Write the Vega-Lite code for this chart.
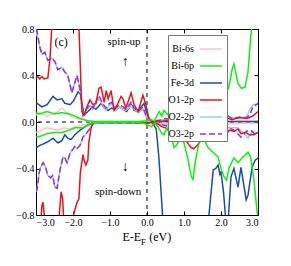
{
"$schema":"https://vega.github.io/schema/vega-lite/v6.json",
"width":222,"height":186,
"autosize":"none",
"padding":{"left":36,"top":29,"right":33,"bottom":51},
"background":"white",
"config":{"view":{"stroke":"black","strokeWidth":1},
"font":"Liberation Serif",
"axis":{"domainColor":"black","tickColor":"black","labelColor":"black","labelFont":"Liberation Serif","labelFontSize":10,"grid":false,"tickSize":-4,"labelPadding":6}},
"datasets":{
"dos":[
{"o":"Bi-6s","s":"u","x":-3,"y":0.06},{"o":"Bi-6s","s":"u","x":-2.85,"y":0.07},{"o":"Bi-6s","s":"u","x":-2.7,"y":0.05},{"o":"Bi-6s","s":"u","x":-2.55,"y":0.07},{"o":"Bi-6s","s":"u","x":-2.4,"y":0.09},{"o":"Bi-6s","s":"u","x":-2.3,"y":0.12},{"o":"Bi-6s","s":"u","x":-2.2,"y":0.09},{"o":"Bi-6s","s":"u","x":-2.1,"y":0.06},{"o":"Bi-6s","s":"u","x":-2,"y":0.04},{"o":"Bi-6s","s":"u","x":-1.8,"y":0.02},{"o":"Bi-6s","s":"u","x":-1.5,"y":0.005},{"o":"Bi-6s","s":"u","x":0,"y":0.005},{"o":"Bi-6s","s":"u","x":1,"y":0.008},{"o":"Bi-6s","s":"u","x":2,"y":0.005},{"o":"Bi-6s","s":"u","x":3,"y":0.006},
{"o":"Bi-6s","s":"d","x":-3,"y":-0.09},{"o":"Bi-6s","s":"d","x":-2.85,"y":-0.07},{"o":"Bi-6s","s":"d","x":-2.7,"y":-0.05},{"o":"Bi-6s","s":"d","x":-2.55,"y":-0.06},{"o":"Bi-6s","s":"d","x":-2.4,"y":-0.07},{"o":"Bi-6s","s":"d","x":-2.25,"y":-0.05},{"o":"Bi-6s","s":"d","x":-2.1,"y":-0.06},{"o":"Bi-6s","s":"d","x":-1.95,"y":-0.04},{"o":"Bi-6s","s":"d","x":-1.8,"y":-0.03},{"o":"Bi-6s","s":"d","x":-1.5,"y":-0.01},{"o":"Bi-6s","s":"d","x":0,"y":-0.01},{"o":"Bi-6s","s":"d","x":1,"y":-0.012},{"o":"Bi-6s","s":"d","x":1.5,"y":-0.01},{"o":"Bi-6s","s":"d","x":2,"y":-0.02},{"o":"Bi-6s","s":"d","x":2.5,"y":-0.012},{"o":"Bi-6s","s":"d","x":3,"y":-0.01},
{"o":"Fe-3d","s":"u","x":-3,"y":0.15},{"o":"Fe-3d","s":"u","x":-2.97,"y":0.16},{"o":"Fe-3d","s":"u","x":-2.84,"y":0.13},{"o":"Fe-3d","s":"u","x":-2.7,"y":0.15},{"o":"Fe-3d","s":"u","x":-2.54,"y":0.22},{"o":"Fe-3d","s":"u","x":-2.43,"y":0.19},{"o":"Fe-3d","s":"u","x":-2.3,"y":0.2},{"o":"Fe-3d","s":"u","x":-2.22,"y":0.16},{"o":"Fe-3d","s":"u","x":-2.08,"y":0.15},{"o":"Fe-3d","s":"u","x":-1.99,"y":0.18},{"o":"Fe-3d","s":"u","x":-1.86,"y":0.26},{"o":"Fe-3d","s":"u","x":-1.8,"y":0.24},{"o":"Fe-3d","s":"u","x":-1.7,"y":0.06},{"o":"Fe-3d","s":"u","x":-1.6,"y":0.09},{"o":"Fe-3d","s":"u","x":-1.46,"y":0.13},{"o":"Fe-3d","s":"u","x":-1.38,"y":0.11},{"o":"Fe-3d","s":"u","x":-1.24,"y":0.16},{"o":"Fe-3d","s":"u","x":-1.15,"y":0.12},{"o":"Fe-3d","s":"u","x":-1.05,"y":0.1},{"o":"Fe-3d","s":"u","x":-0.95,"y":0.12},{"o":"Fe-3d","s":"u","x":-0.85,"y":0.1},{"o":"Fe-3d","s":"u","x":-0.75,"y":0.13},{"o":"Fe-3d","s":"u","x":-0.65,"y":0.11},{"o":"Fe-3d","s":"u","x":-0.55,"y":0.09},{"o":"Fe-3d","s":"u","x":-0.43,"y":0.15},{"o":"Fe-3d","s":"u","x":-0.35,"y":0.1},{"o":"Fe-3d","s":"u","x":-0.25,"y":0.09},{"o":"Fe-3d","s":"u","x":-0.08,"y":0.16},{"o":"Fe-3d","s":"u","x":0.03,"y":0.04},{"o":"Fe-3d","s":"u","x":0.16,"y":0},{"o":"Fe-3d","s":"u","x":0.3,"y":0.005},{"o":"Fe-3d","s":"u","x":3,"y":0.005},
{"o":"Fe-3d","s":"d","x":-3,"y":-0.22},{"o":"Fe-3d","s":"d","x":-2.89,"y":-0.2},{"o":"Fe-3d","s":"d","x":-2.81,"y":-0.19},{"o":"Fe-3d","s":"d","x":-2.68,"y":-0.17},{"o":"Fe-3d","s":"d","x":-2.54,"y":-0.14},{"o":"Fe-3d","s":"d","x":-2.41,"y":-0.18},{"o":"Fe-3d","s":"d","x":-2.3,"y":-0.16},{"o":"Fe-3d","s":"d","x":-2.22,"y":-0.11},{"o":"Fe-3d","s":"d","x":-2.14,"y":-0.14},{"o":"Fe-3d","s":"d","x":-2.05,"y":-0.15},{"o":"Fe-3d","s":"d","x":-1.95,"y":-0.11},{"o":"Fe-3d","s":"d","x":-1.81,"y":-0.07},{"o":"Fe-3d","s":"d","x":-1.62,"y":-0.03},{"o":"Fe-3d","s":"d","x":-1.46,"y":-0.005},{"o":"Fe-3d","s":"d","x":0.15,"y":-0.01},{"o":"Fe-3d","s":"d","x":0.25,"y":-0.06},{"o":"Fe-3d","s":"d","x":0.32,"y":-0.3},{"o":"Fe-3d","s":"d","x":0.38,"y":-0.6},{"o":"Fe-3d","s":"d","x":0.43,"y":-0.85},{"o":"Fe-3d","s":"d","x":0.5,"y":-1.0},{"o":"Fe-3d","s":"d","x":1.6,"y":-1.0},{"o":"Fe-3d","s":"d","x":1.68,"y":-0.78},{"o":"Fe-3d","s":"d","x":1.79,"y":-0.41},{"o":"Fe-3d","s":"d","x":1.86,"y":-0.4},{"o":"Fe-3d","s":"d","x":1.92,"y":-0.37},{"o":"Fe-3d","s":"d","x":1.97,"y":-0.45},{"o":"Fe-3d","s":"d","x":2.0,"y":-0.43},{"o":"Fe-3d","s":"d","x":2.07,"y":-0.61},{"o":"Fe-3d","s":"d","x":2.13,"y":-0.85},{"o":"Fe-3d","s":"d","x":2.2,"y":-0.82},{"o":"Fe-3d","s":"d","x":2.27,"y":-0.47},{"o":"Fe-3d","s":"d","x":2.35,"y":-0.4},{"o":"Fe-3d","s":"d","x":2.46,"y":-0.56},{"o":"Fe-3d","s":"d","x":2.54,"y":-0.39},{"o":"Fe-3d","s":"d","x":2.62,"y":-0.55},{"o":"Fe-3d","s":"d","x":2.68,"y":-0.67},{"o":"Fe-3d","s":"d","x":2.73,"y":-0.63},{"o":"Fe-3d","s":"d","x":2.84,"y":-0.39},{"o":"Fe-3d","s":"d","x":2.92,"y":-0.33},{"o":"Fe-3d","s":"d","x":3,"y":-0.31},
{"o":"O2-2p","s":"u","x":-3,"y":0.78},{"o":"O2-2p","s":"u","x":-2.95,"y":0.72},{"o":"O2-2p","s":"u","x":-2.9,"y":0.64},{"o":"O2-2p","s":"u","x":-2.84,"y":0.58},{"o":"O2-2p","s":"u","x":-2.76,"y":0.6},{"o":"O2-2p","s":"u","x":-2.68,"y":0.53},{"o":"O2-2p","s":"u","x":-2.57,"y":0.55},{"o":"O2-2p","s":"u","x":-2.49,"y":0.52},{"o":"O2-2p","s":"u","x":-2.41,"y":0.45},{"o":"O2-2p","s":"u","x":-2.3,"y":0.47},{"o":"O2-2p","s":"u","x":-2.22,"y":0.43},{"o":"O2-2p","s":"u","x":-2.14,"y":0.4},{"o":"O2-2p","s":"u","x":-2.03,"y":0.25},{"o":"O2-2p","s":"u","x":-1.95,"y":0.34},{"o":"O2-2p","s":"u","x":-1.89,"y":0.4},{"o":"O2-2p","s":"u","x":-1.81,"y":0.28},{"o":"O2-2p","s":"u","x":-1.73,"y":0.05},{"o":"O2-2p","s":"u","x":-1.62,"y":0.11},{"o":"O2-2p","s":"u","x":-1.54,"y":0.14},{"o":"O2-2p","s":"u","x":-1.46,"y":0.11},{"o":"O2-2p","s":"u","x":-1.3,"y":0.2},{"o":"O2-2p","s":"u","x":-1.2,"y":0.15},{"o":"O2-2p","s":"u","x":-1.11,"y":0.1},{"o":"O2-2p","s":"u","x":-1.03,"y":0.14},{"o":"O2-2p","s":"u","x":-0.95,"y":0.15},{"o":"O2-2p","s":"u","x":-0.85,"y":0.1},{"o":"O2-2p","s":"u","x":-0.75,"y":0.13},{"o":"O2-2p","s":"u","x":-0.65,"y":0.11},{"o":"O2-2p","s":"u","x":-0.57,"y":0.1},{"o":"O2-2p","s":"u","x":-0.43,"y":0.14},{"o":"O2-2p","s":"u","x":-0.35,"y":0.11},{"o":"O2-2p","s":"u","x":-0.24,"y":0.08},{"o":"O2-2p","s":"u","x":-0.11,"y":0.11},{"o":"O2-2p","s":"u","x":-0.03,"y":0.05},{"o":"O2-2p","s":"u","x":0.1,"y":0.01},{"o":"O2-2p","s":"u","x":0.4,"y":0.02},{"o":"O2-2p","s":"u","x":0.7,"y":0.03},{"o":"O2-2p","s":"u","x":1,"y":0.02},{"o":"O2-2p","s":"u","x":1.3,"y":0.03},{"o":"O2-2p","s":"u","x":1.6,"y":0.04},{"o":"O2-2p","s":"u","x":1.9,"y":0.03},{"o":"O2-2p","s":"u","x":2.2,"y":0.04},{"o":"O2-2p","s":"u","x":2.5,"y":0.03},{"o":"O2-2p","s":"u","x":2.7,"y":0.05},{"o":"O2-2p","s":"u","x":2.8,"y":0.12},{"o":"O2-2p","s":"u","x":2.88,"y":0.15},{"o":"O2-2p","s":"u","x":3,"y":0.15},
{"o":"O2-2p","s":"d","x":-3,"y":-0.6},{"o":"O2-2p","s":"d","x":-2.97,"y":-0.58},{"o":"O2-2p","s":"d","x":-2.92,"y":-0.45},{"o":"O2-2p","s":"d","x":-2.89,"y":-0.4},{"o":"O2-2p","s":"d","x":-2.81,"y":-0.35},{"o":"O2-2p","s":"d","x":-2.75,"y":-0.38},{"o":"O2-2p","s":"d","x":-2.68,"y":-0.46},{"o":"O2-2p","s":"d","x":-2.6,"y":-0.48},{"o":"O2-2p","s":"d","x":-2.55,"y":-0.46},{"o":"O2-2p","s":"d","x":-2.49,"y":-0.56},{"o":"O2-2p","s":"d","x":-2.43,"y":-0.57},{"o":"O2-2p","s":"d","x":-2.35,"y":-0.41},{"o":"O2-2p","s":"d","x":-2.27,"y":-0.3},{"o":"O2-2p","s":"d","x":-2.22,"y":-0.31},{"o":"O2-2p","s":"d","x":-2.16,"y":-0.35},{"o":"O2-2p","s":"d","x":-2.08,"y":-0.27},{"o":"O2-2p","s":"d","x":-1.95,"y":-0.21},{"o":"O2-2p","s":"d","x":-1.89,"y":-0.23},{"o":"O2-2p","s":"d","x":-1.81,"y":-0.2},{"o":"O2-2p","s":"d","x":-1.73,"y":-0.13},{"o":"O2-2p","s":"d","x":-1.62,"y":-0.09},{"o":"O2-2p","s":"d","x":-1.51,"y":-0.04},{"o":"O2-2p","s":"d","x":-1.43,"y":-0.005},{"o":"O2-2p","s":"d","x":0.1,"y":-0.01},{"o":"O2-2p","s":"d","x":0.3,"y":-0.02},{"o":"O2-2p","s":"d","x":0.5,"y":-0.02},{"o":"O2-2p","s":"d","x":0.65,"y":-0.03},{"o":"O2-2p","s":"d","x":0.8,"y":-0.07},{"o":"O2-2p","s":"d","x":1.0,"y":-0.09},{"o":"O2-2p","s":"d","x":1.15,"y":-0.1},{"o":"O2-2p","s":"d","x":1.27,"y":-0.14},{"o":"O2-2p","s":"d","x":1.5,"y":-0.1},{"o":"O2-2p","s":"d","x":1.68,"y":-0.03},{"o":"O2-2p","s":"d","x":1.85,"y":-0.05},{"o":"O2-2p","s":"d","x":2.0,"y":-0.07},{"o":"O2-2p","s":"d","x":2.2,"y":-0.05},{"o":"O2-2p","s":"d","x":2.46,"y":-0.05},{"o":"O2-2p","s":"d","x":2.6,"y":-0.09},{"o":"O2-2p","s":"d","x":2.73,"y":-0.14},{"o":"O2-2p","s":"d","x":2.85,"y":-0.08},{"o":"O2-2p","s":"d","x":3,"y":-0.1},
{"o":"O3-2p","s":"u","x":-3,"y":0.8},{"o":"O3-2p","s":"u","x":-2.97,"y":0.78},{"o":"O3-2p","s":"u","x":-2.9,"y":0.65},{"o":"O3-2p","s":"u","x":-2.84,"y":0.58},{"o":"O3-2p","s":"u","x":-2.76,"y":0.6},{"o":"O3-2p","s":"u","x":-2.68,"y":0.53},{"o":"O3-2p","s":"u","x":-2.57,"y":0.55},{"o":"O3-2p","s":"u","x":-2.49,"y":0.52},{"o":"O3-2p","s":"u","x":-2.41,"y":0.45},{"o":"O3-2p","s":"u","x":-2.3,"y":0.47},{"o":"O3-2p","s":"u","x":-2.22,"y":0.43},{"o":"O3-2p","s":"u","x":-2.14,"y":0.4},{"o":"O3-2p","s":"u","x":-2.03,"y":0.25},{"o":"O3-2p","s":"u","x":-1.95,"y":0.34},{"o":"O3-2p","s":"u","x":-1.89,"y":0.4},{"o":"O3-2p","s":"u","x":-1.81,"y":0.28},{"o":"O3-2p","s":"u","x":-1.73,"y":0.06},{"o":"O3-2p","s":"u","x":-1.62,"y":0.12},{"o":"O3-2p","s":"u","x":-1.54,"y":0.15},{"o":"O3-2p","s":"u","x":-1.46,"y":0.12},{"o":"O3-2p","s":"u","x":-1.3,"y":0.23},{"o":"O3-2p","s":"u","x":-1.2,"y":0.16},{"o":"O3-2p","s":"u","x":-1.11,"y":0.12},{"o":"O3-2p","s":"u","x":-1.05,"y":0.15},{"o":"O3-2p","s":"u","x":-0.97,"y":0.17},{"o":"O3-2p","s":"u","x":-0.85,"y":0.12},{"o":"O3-2p","s":"u","x":-0.75,"y":0.15},{"o":"O3-2p","s":"u","x":-0.65,"y":0.13},{"o":"O3-2p","s":"u","x":-0.57,"y":0.11},{"o":"O3-2p","s":"u","x":-0.43,"y":0.17},{"o":"O3-2p","s":"u","x":-0.35,"y":0.12},{"o":"O3-2p","s":"u","x":-0.24,"y":0.09},{"o":"O3-2p","s":"u","x":-0.11,"y":0.13},{"o":"O3-2p","s":"u","x":-0.03,"y":0.06},{"o":"O3-2p","s":"u","x":0.1,"y":0.01},{"o":"O3-2p","s":"u","x":0.3,"y":0.01},{"o":"O3-2p","s":"u","x":0.5,"y":0.03},{"o":"O3-2p","s":"u","x":0.65,"y":0.02},{"o":"O3-2p","s":"u","x":0.8,"y":0.05},{"o":"O3-2p","s":"u","x":0.95,"y":0.02},{"o":"O3-2p","s":"u","x":1.2,"y":0.04},{"o":"O3-2p","s":"u","x":1.4,"y":0.02},{"o":"O3-2p","s":"u","x":1.55,"y":0.06},{"o":"O3-2p","s":"u","x":1.7,"y":0.03},{"o":"O3-2p","s":"u","x":1.85,"y":0.07},{"o":"O3-2p","s":"u","x":2,"y":0.04},{"o":"O3-2p","s":"u","x":2.15,"y":0.06},{"o":"O3-2p","s":"u","x":2.3,"y":0.03},{"o":"O3-2p","s":"u","x":2.5,"y":0.04},{"o":"O3-2p","s":"u","x":2.65,"y":0.03},{"o":"O3-2p","s":"u","x":2.78,"y":0.06},{"o":"O3-2p","s":"u","x":2.86,"y":0.13},{"o":"O3-2p","s":"u","x":3,"y":0.16},
{"o":"O3-2p","s":"d","x":-3,"y":-0.6},{"o":"O3-2p","s":"d","x":-2.97,"y":-0.58},{"o":"O3-2p","s":"d","x":-2.92,"y":-0.45},{"o":"O3-2p","s":"d","x":-2.89,"y":-0.4},{"o":"O3-2p","s":"d","x":-2.81,"y":-0.35},{"o":"O3-2p","s":"d","x":-2.75,"y":-0.38},{"o":"O3-2p","s":"d","x":-2.68,"y":-0.46},{"o":"O3-2p","s":"d","x":-2.6,"y":-0.48},{"o":"O3-2p","s":"d","x":-2.55,"y":-0.46},{"o":"O3-2p","s":"d","x":-2.49,"y":-0.56},{"o":"O3-2p","s":"d","x":-2.43,"y":-0.57},{"o":"O3-2p","s":"d","x":-2.35,"y":-0.41},{"o":"O3-2p","s":"d","x":-2.27,"y":-0.3},{"o":"O3-2p","s":"d","x":-2.22,"y":-0.31},{"o":"O3-2p","s":"d","x":-2.16,"y":-0.35},{"o":"O3-2p","s":"d","x":-2.08,"y":-0.27},{"o":"O3-2p","s":"d","x":-1.95,"y":-0.21},{"o":"O3-2p","s":"d","x":-1.89,"y":-0.23},{"o":"O3-2p","s":"d","x":-1.81,"y":-0.2},{"o":"O3-2p","s":"d","x":-1.73,"y":-0.13},{"o":"O3-2p","s":"d","x":-1.62,"y":-0.09},{"o":"O3-2p","s":"d","x":-1.51,"y":-0.04},{"o":"O3-2p","s":"d","x":-1.43,"y":-0.005},{"o":"O3-2p","s":"d","x":0.1,"y":-0.01},{"o":"O3-2p","s":"d","x":0.3,"y":-0.02},{"o":"O3-2p","s":"d","x":0.5,"y":-0.03},{"o":"O3-2p","s":"d","x":0.65,"y":-0.05},{"o":"O3-2p","s":"d","x":0.78,"y":-0.09},{"o":"O3-2p","s":"d","x":0.92,"y":-0.06},{"o":"O3-2p","s":"d","x":1.05,"y":-0.04},{"o":"O3-2p","s":"d","x":1.19,"y":-0.06},{"o":"O3-2p","s":"d","x":1.32,"y":-0.14},{"o":"O3-2p","s":"d","x":1.46,"y":-0.11},{"o":"O3-2p","s":"d","x":1.59,"y":-0.05},{"o":"O3-2p","s":"d","x":1.73,"y":-0.04},{"o":"O3-2p","s":"d","x":1.81,"y":-0.06},{"o":"O3-2p","s":"d","x":1.95,"y":-0.11},{"o":"O3-2p","s":"d","x":2.08,"y":-0.06},{"o":"O3-2p","s":"d","x":2.22,"y":-0.05},{"o":"O3-2p","s":"d","x":2.35,"y":-0.07},{"o":"O3-2p","s":"d","x":2.54,"y":-0.13},{"o":"O3-2p","s":"d","x":2.68,"y":-0.08},{"o":"O3-2p","s":"d","x":2.81,"y":-0.07},{"o":"O3-2p","s":"d","x":2.92,"y":-0.11},{"o":"O3-2p","s":"d","x":3,"y":-0.12},
{"o":"O1-2p","s":"u","x":-3,"y":0.38},{"o":"O1-2p","s":"u","x":-2.95,"y":0.39},{"o":"O1-2p","s":"u","x":-2.9,"y":0.37},{"o":"O1-2p","s":"u","x":-2.84,"y":0.39},{"o":"O1-2p","s":"u","x":-2.78,"y":0.37},{"o":"O1-2p","s":"u","x":-2.68,"y":0.38},{"o":"O1-2p","s":"u","x":-2.62,"y":0.55},{"o":"O1-2p","s":"u","x":-2.56,"y":0.9},{"o":"O1-2p","s":"u","x":-1.85,"y":0.9},{"o":"O1-2p","s":"u","x":-1.81,"y":0.55},{"o":"O1-2p","s":"u","x":-1.76,"y":0.09},{"o":"O1-2p","s":"u","x":-1.7,"y":0.06},{"o":"O1-2p","s":"u","x":-1.6,"y":0.15},{"o":"O1-2p","s":"u","x":-1.54,"y":0.19},{"o":"O1-2p","s":"u","x":-1.46,"y":0.15},{"o":"O1-2p","s":"u","x":-1.38,"y":0.16},{"o":"O1-2p","s":"u","x":-1.3,"y":0.29},{"o":"O1-2p","s":"u","x":-1.24,"y":0.3},{"o":"O1-2p","s":"u","x":-1.16,"y":0.17},{"o":"O1-2p","s":"u","x":-1.1,"y":0.27},{"o":"O1-2p","s":"u","x":-1.05,"y":0.2},{"o":"O1-2p","s":"u","x":-0.97,"y":0.27},{"o":"O1-2p","s":"u","x":-0.89,"y":0.1},{"o":"O1-2p","s":"u","x":-0.8,"y":0.15},{"o":"O1-2p","s":"u","x":-0.7,"y":0.22},{"o":"O1-2p","s":"u","x":-0.65,"y":0.2},{"o":"O1-2p","s":"u","x":-0.57,"y":0.12},{"o":"O1-2p","s":"u","x":-0.43,"y":0.25},{"o":"O1-2p","s":"u","x":-0.35,"y":0.15},{"o":"O1-2p","s":"u","x":-0.24,"y":0.09},{"o":"O1-2p","s":"u","x":-0.11,"y":0.23},{"o":"O1-2p","s":"u","x":-0.03,"y":0.15},{"o":"O1-2p","s":"u","x":0.05,"y":0.03},{"o":"O1-2p","s":"u","x":0.16,"y":0},{"o":"O1-2p","s":"u","x":0.5,"y":0.01},{"o":"O1-2p","s":"u","x":0.8,"y":0.02},{"o":"O1-2p","s":"u","x":1,"y":0.01},{"o":"O1-2p","s":"u","x":1.3,"y":0.03},{"o":"O1-2p","s":"u","x":1.5,"y":0.01},{"o":"O1-2p","s":"u","x":1.7,"y":0.03},{"o":"O1-2p","s":"u","x":1.9,"y":0.02},{"o":"O1-2p","s":"u","x":2.1,"y":0.04},{"o":"O1-2p","s":"u","x":2.3,"y":0.02},{"o":"O1-2p","s":"u","x":2.5,"y":0.04},{"o":"O1-2p","s":"u","x":2.7,"y":0.03},{"o":"O1-2p","s":"u","x":2.85,"y":0.05},{"o":"O1-2p","s":"u","x":3,"y":0.09},
{"o":"O1-2p","s":"d","x":-3,"y":-0.9},{"o":"O1-2p","s":"d","x":-2.88,"y":-0.9},{"o":"O1-2p","s":"d","x":-2.84,"y":-0.72},{"o":"O1-2p","s":"d","x":-2.81,"y":-0.69},{"o":"O1-2p","s":"d","x":-2.77,"y":-0.82},{"o":"O1-2p","s":"d","x":-2.72,"y":-0.95},{"o":"O1-2p","s":"d","x":-2.4,"y":-0.95},{"o":"O1-2p","s":"d","x":-2.36,"y":-0.75},{"o":"O1-2p","s":"d","x":-2.32,"y":-0.6},{"o":"O1-2p","s":"d","x":-2.28,"y":-0.66},{"o":"O1-2p","s":"d","x":-2.25,"y":-0.85},{"o":"O1-2p","s":"d","x":-2.2,"y":-0.95},{"o":"O1-2p","s":"d","x":-2.05,"y":-0.9},{"o":"O1-2p","s":"d","x":-1.97,"y":-0.78},{"o":"O1-2p","s":"d","x":-1.9,"y":-0.7},{"o":"O1-2p","s":"d","x":-1.84,"y":-0.66},{"o":"O1-2p","s":"d","x":-1.8,"y":-0.43},{"o":"O1-2p","s":"d","x":-1.73,"y":-0.28},{"o":"O1-2p","s":"d","x":-1.7,"y":-0.33},{"o":"O1-2p","s":"d","x":-1.65,"y":-0.37},{"o":"O1-2p","s":"d","x":-1.6,"y":-0.33},{"o":"O1-2p","s":"d","x":-1.57,"y":-0.17},{"o":"O1-2p","s":"d","x":-1.51,"y":-0.05},{"o":"O1-2p","s":"d","x":-1.46,"y":0},{"o":"O1-2p","s":"d","x":0.1,"y":-0.005},{"o":"O1-2p","s":"d","x":0.3,"y":-0.02},{"o":"O1-2p","s":"d","x":0.4,"y":-0.04},{"o":"O1-2p","s":"d","x":0.5,"y":-0.05},{"o":"O1-2p","s":"d","x":0.6,"y":-0.08},{"o":"O1-2p","s":"d","x":0.73,"y":-0.11},{"o":"O1-2p","s":"d","x":0.78,"y":-0.13},{"o":"O1-2p","s":"d","x":0.92,"y":-0.15},{"o":"O1-2p","s":"d","x":1.05,"y":-0.16},{"o":"O1-2p","s":"d","x":1.19,"y":-0.22},{"o":"O1-2p","s":"d","x":1.27,"y":-0.23},{"o":"O1-2p","s":"d","x":1.41,"y":-0.18},{"o":"O1-2p","s":"d","x":1.54,"y":-0.13},{"o":"O1-2p","s":"d","x":1.68,"y":-0.04},{"o":"O1-2p","s":"d","x":1.78,"y":-0.05},{"o":"O1-2p","s":"d","x":1.92,"y":-0.05},{"o":"O1-2p","s":"d","x":2,"y":-0.09},{"o":"O1-2p","s":"d","x":2.08,"y":-0.14},{"o":"O1-2p","s":"d","x":2.22,"y":-0.07},{"o":"O1-2p","s":"d","x":2.35,"y":-0.08},{"o":"O1-2p","s":"d","x":2.46,"y":-0.06},{"o":"O1-2p","s":"d","x":2.54,"y":-0.1},{"o":"O1-2p","s":"d","x":2.68,"y":-0.09},{"o":"O1-2p","s":"d","x":2.76,"y":-0.11},{"o":"O1-2p","s":"d","x":2.89,"y":-0.11},{"o":"O1-2p","s":"d","x":3,"y":-0.09},
{"o":"Bi-6p","s":"u","x":-3,"y":0.08},{"o":"Bi-6p","s":"u","x":-2.9,"y":0.07},{"o":"Bi-6p","s":"u","x":-2.7,"y":0.09},{"o":"Bi-6p","s":"u","x":-2.5,"y":0.07},{"o":"Bi-6p","s":"u","x":-2.3,"y":0.08},{"o":"Bi-6p","s":"u","x":-2.1,"y":0.07},{"o":"Bi-6p","s":"u","x":-1.95,"y":0.05},{"o":"Bi-6p","s":"u","x":-1.8,"y":0.03},{"o":"Bi-6p","s":"u","x":-1.6,"y":0.01},{"o":"Bi-6p","s":"u","x":-1.4,"y":0.005},{"o":"Bi-6p","s":"u","x":-0.2,"y":0.005},{"o":"Bi-6p","s":"u","x":0,"y":0.01},{"o":"Bi-6p","s":"u","x":0.1,"y":0.02},{"o":"Bi-6p","s":"u","x":0.2,"y":0.01},{"o":"Bi-6p","s":"u","x":0.33,"y":0.09},{"o":"Bi-6p","s":"u","x":0.4,"y":0.05},{"o":"Bi-6p","s":"u","x":0.46,"y":0.1},{"o":"Bi-6p","s":"u","x":0.6,"y":0.05},{"o":"Bi-6p","s":"u","x":0.73,"y":0.13},{"o":"Bi-6p","s":"u","x":0.85,"y":0.1},{"o":"Bi-6p","s":"u","x":1,"y":0.16},{"o":"Bi-6p","s":"u","x":1.1,"y":0.12},{"o":"Bi-6p","s":"u","x":1.27,"y":0.19},{"o":"Bi-6p","s":"u","x":1.35,"y":0.15},{"o":"Bi-6p","s":"u","x":1.5,"y":0.26},{"o":"Bi-6p","s":"u","x":1.7,"y":0.4},{"o":"Bi-6p","s":"u","x":1.9,"y":0.5},{"o":"Bi-6p","s":"u","x":2.05,"y":0.45},{"o":"Bi-6p","s":"u","x":2.2,"y":0.28},{"o":"Bi-6p","s":"u","x":2.3,"y":0.45},{"o":"Bi-6p","s":"u","x":2.35,"y":0.5},{"o":"Bi-6p","s":"u","x":2.46,"y":0.33},{"o":"Bi-6p","s":"u","x":2.55,"y":0.29},{"o":"Bi-6p","s":"u","x":2.65,"y":0.3},{"o":"Bi-6p","s":"u","x":2.73,"y":0.43},{"o":"Bi-6p","s":"u","x":2.8,"y":0.72},{"o":"Bi-6p","s":"u","x":2.86,"y":0.9},
{"o":"Bi-6p","s":"d","x":-3,"y":-0.13},{"o":"Bi-6p","s":"d","x":-2.85,"y":-0.12},{"o":"Bi-6p","s":"d","x":-2.7,"y":-0.1},{"o":"Bi-6p","s":"d","x":-2.5,"y":-0.09},{"o":"Bi-6p","s":"d","x":-2.3,"y":-0.09},{"o":"Bi-6p","s":"d","x":-2.1,"y":-0.07},{"o":"Bi-6p","s":"d","x":-1.95,"y":-0.05},{"o":"Bi-6p","s":"d","x":-1.75,"y":-0.05},{"o":"Bi-6p","s":"d","x":-1.6,"y":-0.03},{"o":"Bi-6p","s":"d","x":-1.45,"y":-0.005},{"o":"Bi-6p","s":"d","x":-0.3,"y":-0.005},{"o":"Bi-6p","s":"d","x":-0.1,"y":-0.01},{"o":"Bi-6p","s":"d","x":0.05,"y":-0.03},{"o":"Bi-6p","s":"d","x":0.12,"y":-0.04},{"o":"Bi-6p","s":"d","x":0.2,"y":-0.01},{"o":"Bi-6p","s":"d","x":0.3,"y":-0.04},{"o":"Bi-6p","s":"d","x":0.38,"y":-0.09},{"o":"Bi-6p","s":"d","x":0.46,"y":-0.11},{"o":"Bi-6p","s":"d","x":0.54,"y":-0.05},{"o":"Bi-6p","s":"d","x":0.65,"y":-0.12},{"o":"Bi-6p","s":"d","x":0.73,"y":-0.22},{"o":"Bi-6p","s":"d","x":0.8,"y":-0.2},{"o":"Bi-6p","s":"d","x":0.92,"y":-0.12},{"o":"Bi-6p","s":"d","x":1,"y":-0.18},{"o":"Bi-6p","s":"d","x":1.1,"y":-0.31},{"o":"Bi-6p","s":"d","x":1.19,"y":-0.46},{"o":"Bi-6p","s":"d","x":1.24,"y":-0.5},{"o":"Bi-6p","s":"d","x":1.3,"y":-0.35},{"o":"Bi-6p","s":"d","x":1.41,"y":-0.17},{"o":"Bi-6p","s":"d","x":1.54,"y":-0.15},{"o":"Bi-6p","s":"d","x":1.65,"y":-0.22},{"o":"Bi-6p","s":"d","x":1.78,"y":-0.26},{"o":"Bi-6p","s":"d","x":1.92,"y":-0.3},{"o":"Bi-6p","s":"d","x":2,"y":-0.4},{"o":"Bi-6p","s":"d","x":2.08,"y":-0.47},{"o":"Bi-6p","s":"d","x":2.15,"y":-0.5},{"o":"Bi-6p","s":"d","x":2.22,"y":-0.39},{"o":"Bi-6p","s":"d","x":2.35,"y":-0.31},{"o":"Bi-6p","s":"d","x":2.46,"y":-0.35},{"o":"Bi-6p","s":"d","x":2.6,"y":-0.3},{"o":"Bi-6p","s":"d","x":2.73,"y":-0.26},{"o":"Bi-6p","s":"d","x":2.8,"y":-0.3},{"o":"Bi-6p","s":"d","x":2.89,"y":-0.5},{"o":"Bi-6p","s":"d","x":3,"y":-0.85}
],
"notes":[
{"t":"(c)","x":-2.32,"y":0.69,"sz":12},
{"t":"spin-up","x":-0.62,"y":0.69,"sz":11},
{"t":"↑","x":-0.59,"y":0.52,"sz":14},
{"t":"↓","x":-0.59,"y":-0.39,"sz":14},
{"t":"spin-down","x":-0.78,"y":-0.6,"sz":11}
]
},
"resolve":{"axis":{"x":"independent","y":"independent"}},
"layer":[
{"data":{"values":[{"z":0}]},"mark":{"type":"rule","color":"black","strokeDash":[4,4],"strokeWidth":1},
 "encoding":{"y":{"field":"z","type":"quantitative","scale":{"domain":[-0.8,0.8],"nice":false,"zero":false},"axis":null}}},
{"data":{"values":[{"z":0}]},"mark":{"type":"rule","color":"black","strokeDash":[4,4],"strokeWidth":1},
 "encoding":{"x":{"field":"z","type":"quantitative","scale":{"domain":[-3,3],"nice":false,"zero":false},"axis":null}}},
{"data":{"name":"dos"},"mark":{"type":"line","strokeWidth":1.5,"clip":true},
 "encoding":{
  "x":{"field":"x","type":"quantitative","scale":{"domain":[-3,3],"nice":false,"zero":false},"axis":{"values":[-3,-2,-1,0,1,2,3],"format":".1f","title":null,"orient":"bottom"}},
  "y":{"field":"y","type":"quantitative","scale":{"domain":[-0.8,0.8],"nice":false,"zero":false},"axis":{"values":[-0.8,-0.4,0,0.4,0.8],"format":".1f","title":null,"orient":"left"}},
  "color":{"field":"o","type":"nominal","scale":{"domain":["Bi-6s","Bi-6p","Fe-3d","O1-2p","O2-2p","O3-2p"],"range":["#ffc4c4","#11ee11","#1a4ea6","#e8141c","#8fd0f0","#9a2ee0"]},
   "legend":{"orient":"none","legendX":132,"legendY":6,"title":null,"fillColor":"white","strokeColor":"#777","padding":2,"symbolType":"stroke","symbolSize":480,"symbolStrokeWidth":1.5,"rowPadding":-3,"labelFont":"Liberation Serif","labelFontSize":10,"labelAlign":"right","labelOffset":-29,"symbolOffset":29}},
  "strokeDash":{"field":"o","type":"nominal","scale":{"domain":["Bi-6s","Bi-6p","Fe-3d","O1-2p","O2-2p","O3-2p"],"range":[[1,0],[1,0],[1,0],[1,0],[1,0],[6,3]]},
   "legend":{"orient":"none","legendX":132,"legendY":6,"title":null,"fillColor":"white","strokeColor":"#777","padding":2,"symbolType":"stroke","symbolSize":480,"symbolStrokeWidth":1.5,"rowPadding":-3,"labelFont":"Liberation Serif","labelFontSize":10,"labelAlign":"right","labelOffset":-29,"symbolOffset":29}},
  "detail":{"field":"s","type":"nominal"}
 }},
{"data":{"name":"notes"},"mark":{"type":"text","font":"Liberation Serif","color":"black","baseline":"middle"},
 "encoding":{
  "x":{"field":"x","type":"quantitative","scale":{"domain":[-3,3],"nice":false,"zero":false},"axis":{"orient":"top","labels":false,"title":null,"values":[-3,-2,-1,0,1,2,3]}},
  "y":{"field":"y","type":"quantitative","scale":{"domain":[-0.8,0.8],"nice":false,"zero":false},"axis":{"orient":"right","labels":false,"title":null,"values":[-0.8,-0.4,0,0.4,0.8]}},
  "text":{"field":"t"},
  "size":{"field":"sz","type":"quantitative","scale":null}
 }},
{"data":{"values":[{"t":"E-E","x":-0.16,"y":-0.99}]},"mark":{"type":"text","font":"Liberation Serif","color":"black","baseline":"middle","align":"right","fontSize":12},
 "encoding":{
  "x":{"field":"x","type":"quantitative","scale":{"domain":[-3,3],"nice":false,"zero":false},"axis":null},
  "y":{"field":"y","type":"quantitative","scale":{"domain":[-0.8,0.8],"nice":false,"zero":false},"axis":null},
  "text":{"field":"t"}}},
{"data":{"values":[{"t":"F","x":-0.16,"y":-1.035}]},"mark":{"type":"text","font":"Liberation Serif","color":"black","baseline":"middle","align":"left","fontSize":8.5},
 "encoding":{
  "x":{"field":"x","type":"quantitative","scale":{"domain":[-3,3],"nice":false,"zero":false},"axis":null},
  "y":{"field":"y","type":"quantitative","scale":{"domain":[-0.8,0.8],"nice":false,"zero":false},"axis":null},
  "text":{"field":"t"}}},
{"data":{"values":[{"t":"(eV)","x":0.06,"y":-0.99}]},"mark":{"type":"text","font":"Liberation Serif","color":"black","baseline":"middle","align":"left","fontSize":12},
 "encoding":{
  "x":{"field":"x","type":"quantitative","scale":{"domain":[-3,3],"nice":false,"zero":false},"axis":null},
  "y":{"field":"y","type":"quantitative","scale":{"domain":[-0.8,0.8],"nice":false,"zero":false},"axis":null},
  "text":{"field":"t"}}}
]
}
